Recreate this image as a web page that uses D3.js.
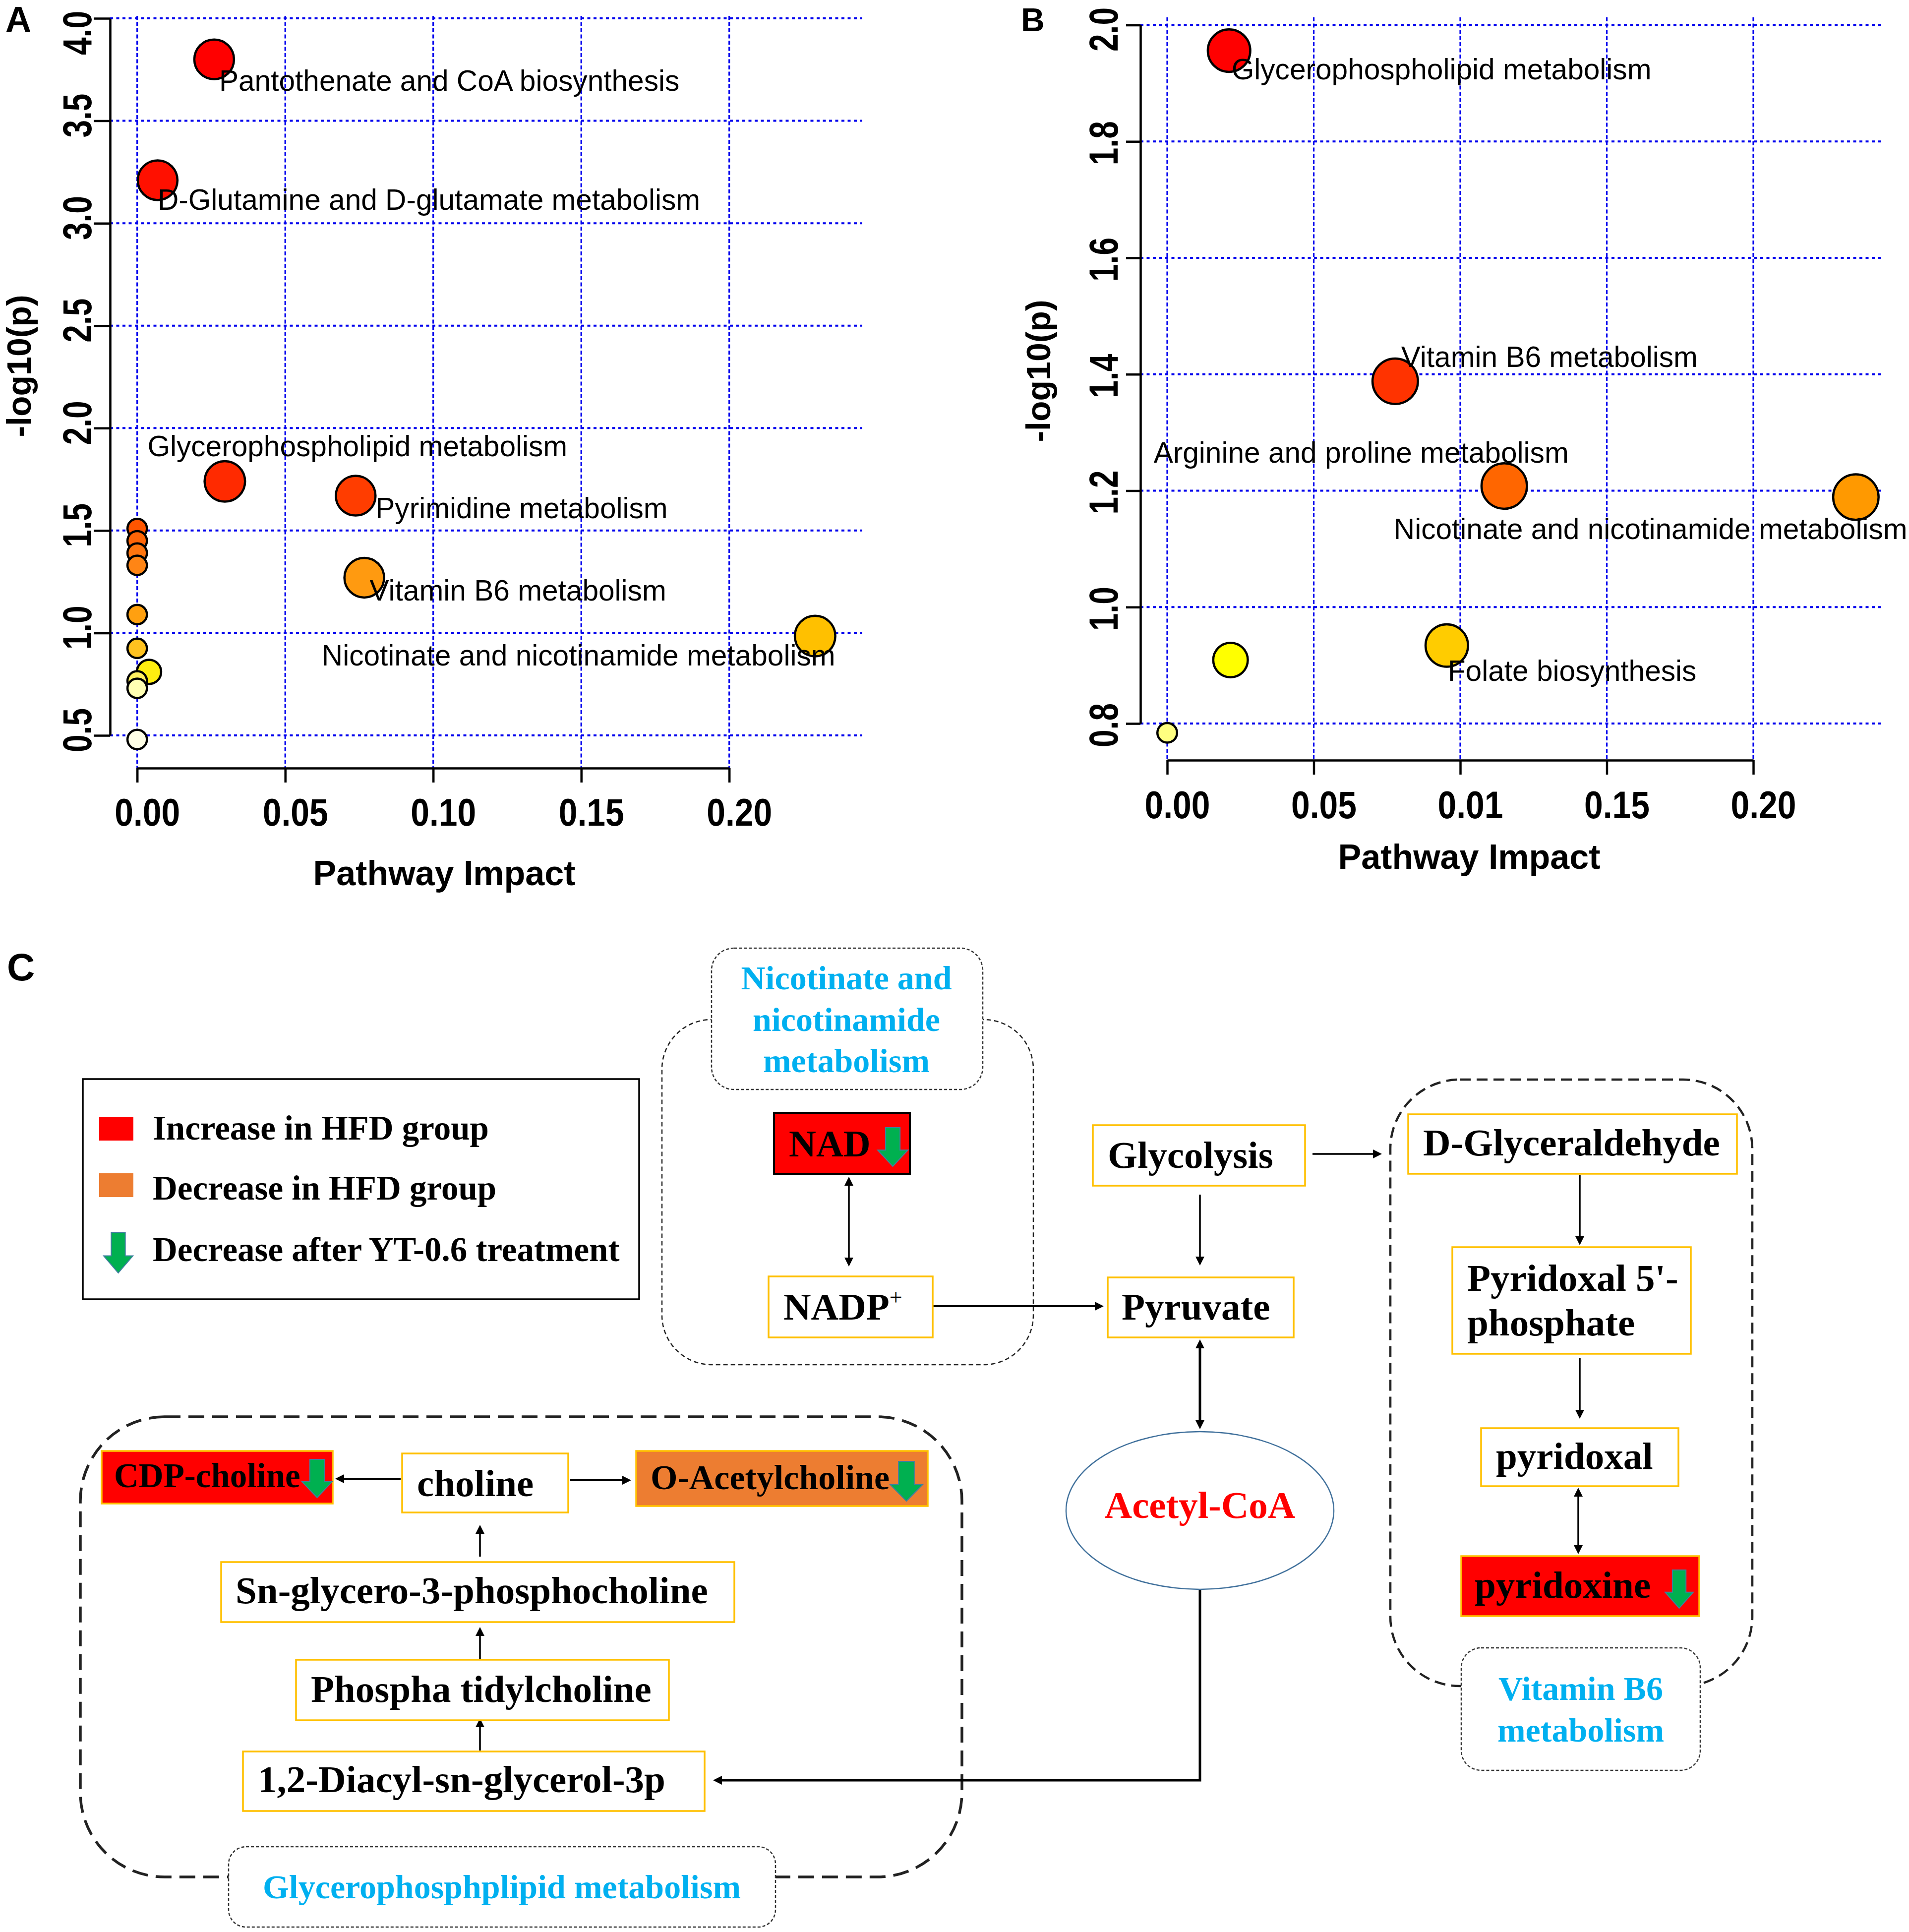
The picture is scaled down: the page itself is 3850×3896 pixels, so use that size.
<!DOCTYPE html>
<html><head><meta charset="utf-8">
<script src="https://cdn.jsdelivr.net/npm/d3@7"></script>
<style>body{margin:0;background:#fff}</style>
</head><body>
<script>
// ---------------- DATA ----------------
// Panel A
const namesA   = ["Pantothenate and CoA biosynthesis","D-Glutamine and D-glutamate metabolism","Glycerophospholipid metabolism","Pyrimidine metabolism","","","","","Vitamin B6 metabolism","","Nicotinate and nicotinamide metabolism","","","","",""];
const impactA  = [0.026, 0.0069, 0.0296, 0.0738, 0, 0, 0, 0, 0.0767, 0, 0.229, 0, 0.004, 0, 0, 0];
const logpA    = [3.80, 3.21, 1.74, 1.67, 1.51, 1.45, 1.39, 1.33, 1.27, 1.09, 0.985, 0.925, 0.81, 0.766, 0.73, 0.48];
const bubbleA  = [1.0, 1.0, 1.02, 1.0, 0.49, 0.49, 0.49, 0.49, 1.0, 0.49, 1.02, 0.49, 0.61, 0.49, 0.49, 0.49];
const yTicksA  = [0.5, 1.0, 1.5, 2.0, 2.5, 3.0, 3.5, 4.0];
const xTicksA  = [0, 0.05, 0.10, 0.15, 0.20];
const xTickLabelsA = ["0.00","0.05","0.10","0.15","0.20"];
// Panel B
const namesB   = ["Glycerophospholipid metabolism","Vitamin B6 metabolism","Arginine and proline metabolism","Nicotinate and nicotinamide metabolism","Folate biosynthesis","",""];
const impactB  = [0.0211, 0.0778, 0.115, 0.235, 0.0954, 0.0216, 0];
const logpB    = [1.956, 1.388, 1.208, 1.189, 0.934, 0.909, 0.784];
const bubbleB  = [1.07, 1.145, 1.145, 1.145, 1.07, 0.87, 0.495];
const yTicksB  = [0.8, 1.0, 1.2, 1.4, 1.6, 1.8, 2.0];
const xTicksB  = [0, 0.05, 0.10, 0.15, 0.20];
const xTickLabelsB = ["0.00","0.05","0.01","0.15","0.20"];
// Panel C
const legendItems = ["Increase in HFD group","Decrease in HFD group","Decrease after YT-0.6 treatment"];
const groupTitles = [["Nicotinate and","nicotinamide","metabolism"],["Vitamin B6","metabolism"],["Glycerophosphplipid metabolism"]];
const nodeLabels  = ["NAD","NADP","Glycolysis","Pyruvate","D-Glyceraldehyde","Pyridoxal 5'-|phosphate","pyridoxal","pyridoxine","CDP-choline","choline","O-Acetylcholine","Sn-glycero-3-phosphocholine","Phospha tidylcholine","1,2-Diacyl-sn-glycerol-3p"];
const nodeChange  = ["up","none","none","none","none","none","none","up","up","none","down","none","none","none"];
const nodeYTdown  = [true,false,false,false,false,false,false,true,true,false,true,false,false,false];

// ---------------- LAYOUT / STYLE ----------------
const SANS = "'Liberation Sans', Arial, Helvetica, sans-serif";
const SERIF = "'Liberation Serif', 'Times New Roman', Times, serif";
const GRID = "#0000EE";

const svg = d3.select("body").append("svg").attr("width",3850).attr("height",3896).style("background","#fff");
const defs = svg.append("defs");
defs.append("marker").attr("id","ah").attr("viewBox","0 0 10 10").attr("refX",5).attr("refY",5)
  .attr("markerWidth",22).attr("markerHeight",18).attr("markerUnits","userSpaceOnUse")
  .attr("orient","auto-start-reverse").append("path").attr("d","M0,0L10,5L0,10Z").attr("fill","#000");

const panelA = {
  names:namesA, impact:impactA, logp:logpA, bubble:bubbleA, yTicks:yTicksA, xTicks:xTicksA, xLabels:xTickLabelsA,
  yDomain:[0.5,4.0], xRange:[276.7,1470.7], yRange:[1483,37], plot:[222,1739,32,1549], tickLen:33, yLabOff:38,
  yLabShift:-11, yLabMin:66,
  xLabBase:116, xTitle:[896,1785], yTitle:[62,738], letter:["A",11,64,72],
  color:d3.scaleLinear().domain([0.48,0.73,0.766,0.81,0.925,0.985,1.09,1.27,1.33,1.51,1.67,1.74,3.21,3.80])
    .range(["#FFFFE6","#FFFFB3","#FFF060","#FFEE10","#FFC21F","#FFC000","#FFA010","#FF9A10","#FF8515","#FF5500","#FF3D00","#FF2A00","#FF1000","#FF0000"]),
  labelOff:{"Pantothenate and CoA biosynthesis":[10,63],"D-Glutamine and D-glutamate metabolism":[0,60],
    "Glycerophospholipid metabolism":[-156,-51],"Pyrimidine metabolism":[40,45],"Vitamin B6 metabolism":[11,46],
    "Nicotinate and nicotinamide metabolism":[-995,59]}
};
const panelB = {
  names:namesB, impact:impactB, logp:logpB, bubble:bubbleB, yTicks:yTicksB, xTicks:xTicksB, xLabels:xTickLabelsB,
  yDomain:[0.8,2.0], xRange:[2354,3536], yRange:[1459,50.5], plot:[2300,3799,35,1533], tickLen:29, yLabOff:46,
  yLabShift:3, yLabMin:59,
  xLabBase:117, xTitle:[2963,1752], yTitle:[2118,748], letter:["B",2059,63,66],
  color:d3.scaleLinear().domain([0.784,0.909,0.934,1.189,1.208,1.388,1.956])
    .range(["#FFFF80","#FFFF00","#FFCC00","#FF9900","#FF6600","#FF3300","#FF0000"]),
  labelOff:{"Glycerophospholipid metabolism":[5,58],"Vitamin B6 metabolism":[12,-29],
    "Arginine and proline metabolism":[-707,-47],"Nicotinate and nicotinamide metabolism":[-932,85],
    "Folate biosynthesis":[2,71]}
};

function drawPanel(p){
  const g = svg.append("g");
  const x = d3.scaleLinear().domain([0,0.2]).range(p.xRange);
  const y = d3.scaleLinear().domain(p.yDomain).range(p.yRange);
  const r = d3.scaleLinear().domain([0,1]).range([0,40]);
  // grid
  g.append("g").selectAll("line").data(p.yTicks).join("line")
    .attr("x1",p.plot[0]).attr("x2",p.plot[1]).attr("y1",d=>y(d)).attr("y2",d=>y(d))
    .attr("stroke",GRID).attr("stroke-width",4).attr("stroke-dasharray","6 6.5");
  g.append("g").selectAll("line").data(p.xTicks).join("line")
    .attr("x1",d=>x(d)).attr("x2",d=>x(d)).attr("y1",p.plot[2]).attr("y2",p.plot[3])
    .attr("stroke",GRID).attr("stroke-width",3.2).attr("stroke-dasharray","8 4.5");
  // axes
  const ya = g.append("g").attr("transform",`translate(${p.plot[0]},0)`)
    .call(d3.axisLeft(y).tickValues(p.yTicks).tickFormat(d3.format(".1f")).tickSize(p.tickLen).tickSizeOuter(0));
  const xa = g.append("g").attr("transform",`translate(0,${p.plot[3]})`)
    .call(d3.axisBottom(x).tickValues(p.xTicks).tickFormat((d,i)=>p.xLabels[i]).tickSize(29).tickSizeOuter(0));
  [ya,xa].forEach(a=>{
    a.select(".domain").attr("stroke","#000").attr("stroke-width",4.5);
    a.selectAll(".tick line").attr("stroke","#000").attr("stroke-width",4.5);
    a.selectAll("text").attr("fill","#000").attr("font-family",SANS).attr("font-weight","bold");
  });
  ya.selectAll(".tick text").attr("x",0).attr("y",0).attr("dy",0).attr("text-anchor","middle")
    .attr("font-size",82).attr("transform",d=>{
      const shift = Math.max(y(d)+p.yLabShift, p.yLabMin) - y(d);
      return `translate(${-p.yLabOff},${shift}) rotate(-90) scale(0.78,1)`;
    });
  xa.selectAll(".tick text").attr("x",0).attr("y",0).attr("dy",0).attr("text-anchor","middle")
    .attr("font-size",77).attr("transform",`translate(20,${p.xLabBase}) scale(0.88,1)`);
  // titles
  g.append("text").attr("x",p.xTitle[0]).attr("y",p.xTitle[1]).attr("text-anchor","middle")
    .attr("font-family",SANS).attr("font-weight","bold").attr("font-size",70).text("Pathway Impact");
  g.append("text").attr("transform",`translate(${p.yTitle[0]},${p.yTitle[1]}) rotate(-90)`).attr("text-anchor","middle")
    .attr("font-family",SANS).attr("font-weight","bold").attr("font-size",68).text("-log10(p)");
  g.append("text").attr("x",p.letter[1]).attr("y",p.letter[2]).attr("font-family",SANS).attr("font-weight","bold")
    .attr("font-size",p.letter[3]).text(p.letter[0]);
  // bubbles
  const data = p.names.map((n,i)=>({name:n, impact:p.impact[i], logp:p.logp[i], size:p.bubble[i]}))
    .sort((a,b)=>b.logp-a.logp);
  g.append("g").selectAll("circle").data(data).join("circle")
    .attr("cx",d=>x(d.impact)).attr("cy",d=>y(d.logp)).attr("r",d=>r(d.size))
    .attr("fill",d=>p.color(d.logp)).attr("stroke","#000").attr("stroke-width",4.5);
  g.append("g").selectAll("text").data(data.filter(d=>d.name)).join("text")
    .attr("x",d=>x(d.impact)+p.labelOff[d.name][0]).attr("y",d=>y(d.logp)+p.labelOff[d.name][1])
    .attr("font-family",SANS).attr("font-size",58.6).attr("fill","#000").text(d=>d.name);
}
drawPanel(panelA);
drawPanel(panelB);

// ---------------- PANEL C ----------------
const C = svg.append("g");
C.append("text").attr("x",14).attr("y",1977).attr("font-family",SANS).attr("font-weight","bold").attr("font-size",78).text("C");

const fillFor = {up:"#FF0000", down:"#ED7D31", none:"#FFFFFF"};

function greenArrow(g,b){
  const [x,y,w,h]=b;
  g.append("path").attr("d",`M${x+0.26*w},${y}H${x+0.74*w}V${y+0.58*h}H${x+w}L${x+0.5*w},${y+h}L${x},${y+0.58*h}H${x+0.26*w}Z`)
    .attr("fill","#00B050").attr("stroke","#3F7F9F").attr("stroke-width",2);
}

// group frames (outer dashed)
const frameLayout = [
  {b:[1335,2056,749,696], rx:100, w:2.5, dash:"9 6"},
  {b:[2804,2177,730,1223], rx:140, w:4.5, dash:"22 12"},
  {b:[162,2857,1778,928], rx:170, w:5.5, dash:"32 16"}
];
C.append("g").selectAll("rect").data(frameLayout).join("rect")
  .attr("x",d=>d.b[0]).attr("y",d=>d.b[1]).attr("width",d=>d.b[2]).attr("height",d=>d.b[3])
  .attr("rx",d=>d.rx).attr("fill","none").attr("stroke","#222").attr("stroke-width",d=>d.w).attr("stroke-dasharray",d=>d.dash);

// group title boxes
const titleLayout = [
  {b:[1435,1912,547,285], rx:45, cx:1707, base:[1995,2079,2162]},
  {b:[2947,3323,482,247], rx:40, cx:3188, base:[3428,3512]},
  {b:[461,3724,1103,162], rx:35, cx:1012, base:[3828]}
];
groupTitles.forEach((lines,i)=>{
  const L = titleLayout[i];
  C.append("rect").attr("x",L.b[0]).attr("y",L.b[1]).attr("width",L.b[2]).attr("height",L.b[3]).attr("rx",L.rx)
    .attr("fill","#fff").attr("stroke","#333").attr("stroke-width",2.5).attr("stroke-dasharray","6 4");
  lines.forEach((t,j)=>C.append("text").attr("x",L.cx).attr("y",L.base[j]).attr("text-anchor","middle")
    .attr("font-family",SERIF).attr("font-weight","bold").attr("font-size",68).attr("fill","#00B0F0").text(t));
});

// legend
C.append("rect").attr("x",167).attr("y",2176).attr("width",1122).attr("height",444).attr("fill","#fff").attr("stroke","#000").attr("stroke-width",3.5);
C.append("rect").attr("x",200).attr("y",2252).attr("width",69).attr("height",48).attr("fill",fillFor.up);
C.append("rect").attr("x",200).attr("y",2366).attr("width",69).attr("height",48).attr("fill",fillFor.down);
greenArrow(C,[209,2485,59,82]);
const legBase=[2298,2419,2543];
legendItems.forEach((t,i)=>C.append("text").attr("x",308).attr("y",legBase[i]).attr("font-family",SERIF)
  .attr("font-weight","bold").attr("font-size",69).text(t));

// arrows
const arrowLayout = [
  {pts:[[1712,2371],[1712,2556]], s:true, e:true, w:3.5},
  {pts:[[1881,2634],[2228,2634]], s:false, e:true, w:4},
  {pts:[[2420,2409],[2420,2554]], s:false, e:true, w:3.5},
  {pts:[[2647,2327],[2789,2327]], s:false, e:true, w:3.5},
  {pts:[[2420,2699],[2420,2884]], s:true, e:true, w:5},
  {pts:[[2420,3205],[2420,3590],[1436,3590]], s:false, e:true, w:5},
  {pts:[[3186,2370],[3186,2513]], s:false, e:true, w:3.5},
  {pts:[[3186,2738],[3186,2863]], s:false, e:true, w:3.5},
  {pts:[[3183,2998],[3183,3136]], s:true, e:true, w:3.5},
  {pts:[[808,2982],[674,2982]], s:false, e:true, w:4},
  {pts:[[1150,2985],[1275,2985]], s:false, e:true, w:4},
  {pts:[[968,3139],[968,3073]], s:false, e:true, w:3.5},
  {pts:[[968,3345],[968,3279]], s:false, e:true, w:3.5},
  {pts:[[968,3530],[968,3463]], s:false, e:true, w:3.5}
];
function shorten(a,b,d){const dx=b[0]-a[0],dy=b[1]-a[1],l=Math.hypot(dx,dy);return [b[0]-dx/l*d,b[1]-dy/l*d];}
arrowLayout.forEach(A=>{
  const pts = A.pts.map(p=>p.slice());
  const n = pts.length;
  if(A.e) pts[n-1]=shorten(pts[n-2],A.pts[n-1],11);
  if(A.s) pts[0]=shorten(pts[1],A.pts[0],11);
  C.append("path").attr("d",d3.line()(pts)).attr("fill","none").attr("stroke","#000").attr("stroke-width",A.w)
    .attr("marker-end",A.e?"url(#ah)":null).attr("marker-start",A.s?"url(#ah)":null);
});

// Acetyl-CoA ellipse
C.append("ellipse").attr("cx",2420).attr("cy",3046).attr("rx",270).attr("ry",159).attr("fill","#fff").attr("stroke","#41719C").attr("stroke-width",2.5);
C.append("text").attr("x",2420).attr("y",3061).attr("text-anchor","middle").attr("font-family",SERIF).attr("font-weight","bold")
  .attr("font-size",77).attr("fill","#FF0000").text("Acetyl-CoA");

// nodes
const nodeLayout = {
  "NAD":{b:[1561,2244,274,123], tx:1591, ty:[2332], fs:76, stroke:"#000", arrow:[1770,2274,61,78]},
  "NADP":{b:[1550,2574,331,123], tx:1580, ty:[2661], fs:77, sup:"+"},
  "Glycolysis":{b:[2204,2269,428,122], tx:2234, ty:[2355], fs:77},
  "Pyruvate":{b:[2234,2576,375,121], tx:2262, ty:[2661], fs:77},
  "D-Glyceraldehyde":{b:[2840,2247,663,120], tx:2870, ty:[2330], fs:77},
  "Pyridoxal 5'-|phosphate":{b:[2929,2515,481,215], tx:2959, ty:[2603,2693], fs:77},
  "pyridoxal":{b:[2987,2880,398,117], tx:3017, ty:[2962], fs:77},
  "pyridoxine":{b:[2947,3138,480,121], tx:2974, ty:[3222], fs:77, arrow:[3358,3166,57,77]},
  "CDP-choline":{b:[205,2926,466,106], tx:230, ty:[2999], fs:69, arrow:[609,2943,61,77]},
  "choline":{b:[811,2931,335,119], tx:841, ty:[3017], fs:77},
  "O-Acetylcholine":{b:[1283,2926,588,111], tx:1312, ty:[3003], fs:70, arrow:[1795,2947,66,80]},
  "Sn-glycero-3-phosphocholine":{b:[446,3150,1035,121], tx:475, ty:[3233], fs:77},
  "Phospha tidylcholine":{b:[597,3347,752,122], tx:627, ty:[3432], fs:77},
  "1,2-Diacyl-sn-glycerol-3p":{b:[490,3532,931,120], tx:520, ty:[3614], fs:77}
};
nodeLabels.forEach((lab,i)=>{
  const L = nodeLayout[lab];
  C.append("rect").attr("x",L.b[0]).attr("y",L.b[1]).attr("width",L.b[2]).attr("height",L.b[3])
    .attr("fill",fillFor[nodeChange[i]]).attr("stroke",L.stroke||"#FFC000").attr("stroke-width",L.stroke?4:3.5);
  lab.split("|").forEach((t,j)=>{
    const tx = C.append("text").attr("x",L.tx).attr("y",L.ty[j]).attr("font-family",SERIF)
      .attr("font-weight","bold").attr("font-size",L.fs).attr("fill","#000").text(t);
    if(L.sup) tx.append("tspan").attr("dy",-30).attr("font-size",46).attr("font-weight","normal").text(L.sup);
  });
  if(nodeYTdown[i]) greenArrow(C,L.arrow);
});
</script>
</body></html>
